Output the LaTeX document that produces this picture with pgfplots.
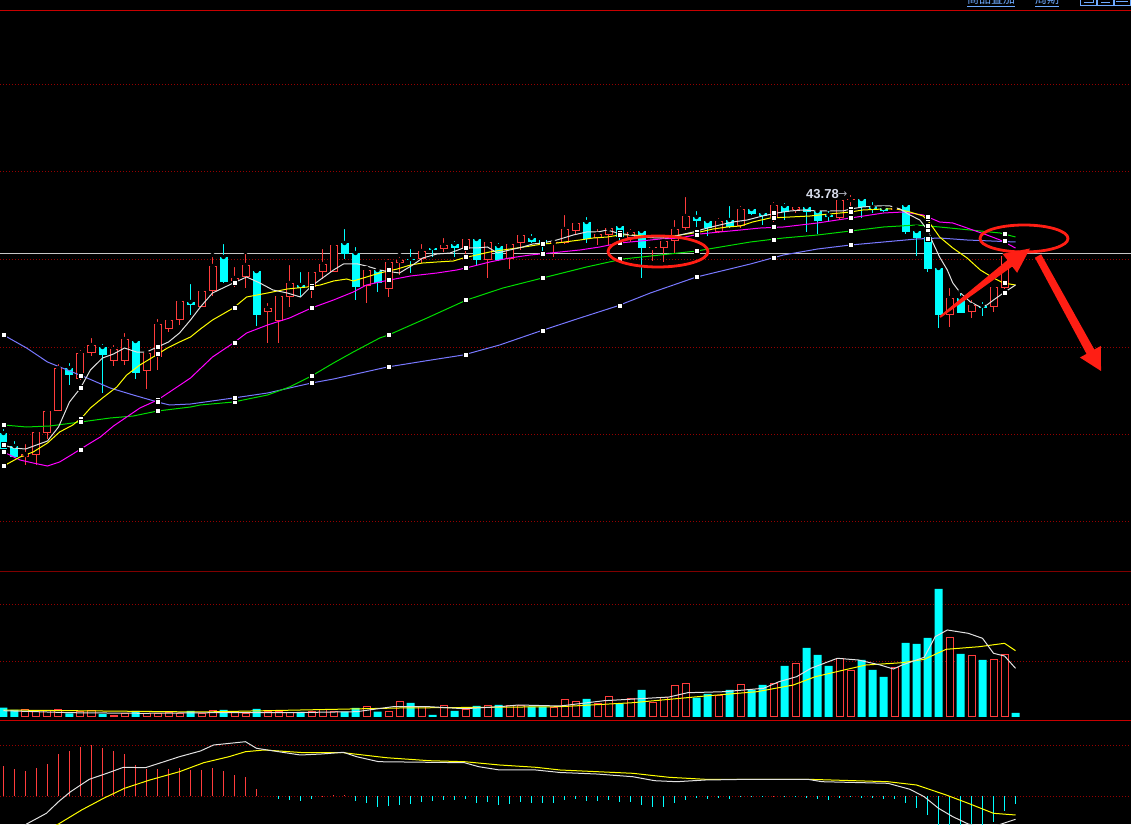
\documentclass[border=0pt]{standalone}
\usepackage{pgfplots}
\pgfplotsset{compat=1.18}
\usepackage{pgfplotstable}
\usepackage{fontspec}
\setmainfont{Liberation Sans}
\newfontfamily\cjk{Noto Sans CJK SC}
\newfontfamily\dejavu{DejaVu Sans}
\definecolor{kred}{RGB}{255,60,60}
\definecolor{kcyan}{RGB}{0,255,255}
\definecolor{maw}{RGB}{225,225,225}
\definecolor{may}{RGB}{255,255,0}
\definecolor{mam}{RGB}{255,0,255}
\definecolor{mag}{RGB}{0,220,0}
\definecolor{mab}{RGB}{120,120,255}
\definecolor{gridred}{RGB}{150,0,0}
\definecolor{linered}{RGB}{200,0,0}
\definecolor{annred}{RGB}{255,30,20}
\definecolor{uiblue}{RGB}{110,170,255}
\definecolor{labgray}{RGB}{215,220,235}

% candles: i open high low close volume (price axis in chart units, downward)
\pgfplotstableread{
i o h l c v
2 457 442 465 454 7
3 455 431 465 432 6
4 433 409 439 411 6
5 411 362 411 368 7.7
7 379 348 380 353 5
8 353 336 356 345 6.7
10 361 343 366 349 1
11 361 331 365 339 3.7
13 371 352 389 353 3.7
14 357 317 370 324 3.7
15 329 317 332 320 4.3
16 320 300 325 301 3.7
18 307 288 307 291 3.7
19 291 255 296 266 6.7
21 281 265 287 278 5
22 277 252 288 265 3.7
24 312 301 343 308 5.3
25 321 295 343 296 5.3
26 297 263 307 283 4.3
28 287 268 298 272 5.3
29 272 247 279 264 7.7
30 272 242 272 245 5.3
33 286 268 303 270 10
35 289 257 297 262 5.3
36 263 255 275 260 15.7
38 259 242 263 251 10.3
40 249 236 252 245 11.7
42 249 237 255 239 7
44 260 240 278 242 11
46 259 242 269 244 11.7
47 243 231 250 235 11.7
50 243 238 257 242 9.7
51 243 213 244 229 17
52 231 221 235 223 15.7
54 238 227 245 234 13.7
55 235 224 245 228 20.3
57 238 227 242 232 18.7
59 248 244 261 247 14.7
60 248 233 262 241 19
61 241 218 253 229 31.7
62 228 195 230 216 33.7
65 232 216 233 221 21.7
67 226 204 228 209 32.7
70 217 200 222 205 33
72 210 203 213 207 53.7
76 218 199 219 200 58.7
77 200 193 212 199 46
81 210 206 211 208 49.7
86 315 286 327 298 79.7
88 312 298 318 305 61.7
90 307 284 312 287 57.7
91 288 255 289 256 62.7
}\tUp

\pgfplotstableread{
i o h l c v
0 433 427 450 449 9.3
1 446 439 457 457 7
6 368 361 385 375 3.7
9 347 342 393 355 3
12 341 340 379 373 6
17 302 282 315 305 6
20 257 242 283 282 7
23 271 271 326 315 8
27 285 270 297 288 5
31 243 227 259 254 5.3
32 253 245 300 287 9
34 270 266 292 283 5.3
37 259 247 273 260 14
39 248 247 257 250 2
41 244 239 257 248 6
43 239 237 266 260 11
45 246 241 261 260 12
48 238 232 243 242 10.3
49 240 237 252 243 10.3
53 222 215 243 239 18
56 226 222 240 237 13.7
58 231 230 278 248 27
63 217 209 227 221 19.3
64 221 217 236 228 23
66 220 204 228 227 27
68 209 205 215 214 27
69 213 210 225 216 32
71 206 201 220 212 51
73 207 206 232 212 69
74 211 207 234 221 62
75 215 209 221 217 51
78 199 198 218 207 57
79 207 200 213 209 47
80 208 203 212 211 40
82 205 204 234 232 74
83 231 227 256 238 73
84 237 235 272 269 79
85 268 266 328 315 128
87 298 291 313 313 63
89 306 300 316 308 57
92 257 254 270 267 4
}\tDown

\pgfplotstableread{
i y
0 445
0.9 448
2 449
3 445
4 441
5 427
6 402
7 388
7.9 370
9 358
10 354
11 348
12.1 352
13 352
14 347
15 342
16 333
17 320
17.9 307
19 293
20.9 283
22.1 277
23.3 283
24.5 290
25.8 293
27 297
28 286
29 278
30 270
30.9 264
32.2 264
33 266
34.2 270
34.7 271
36 273
37.2 265
38.1 258
39.4 254
40.6 253
41.8 248
43 248
44 247
44.9 253
46 250
47.2 247
48.1 244
49 243
50.3 240
51.8 235
53 232
54 232
54.9 230
55.8 233
57 235
58.1 237
59.4 238
60.3 238
61.5 235
62.7 232
64 228
65.1 225
66.3 222
67.6 220
69 216
70.3 213
71.5 211
72.7 210
74 211
75.1 211
76.3 211
77 209
78.1 207
79.4 206
80.6 206
81.5 209
82.4 215
83.3 220
84 230
84.5 243
85.1 257
85.8 270
86.3 283
87 293
87.9 302
88.8 307
89.4 305
90 300
90.9 293
92 285
}\tMaw

\pgfplotstableread{
i y
0 466
1.5 457
2.7 452
4 443
5.1 432
6.3 425
7.1 418
7.9 408
9 398
10.3 387
11.2 375
12.4 365
13.6 357
14.9 348
16 342
17 337
17.9 329
19 320
20.9 308
22.1 297
24 293
25.8 289
27.6 287
28.8 285
30 281
31.2 279
31.8 281
33 277
34.2 273
35.8 269
37 265
38.1 263
39.4 262
40.9 261
41.8 258
43 255
44.2 252
45.4 250
46.7 248
47.9 246
49 244
50.3 243
52.4 240
53.6 238
54.9 237
56 235
57.2 235
58.5 236
59.7 236
60.9 236
62.1 234
63.3 232
64.5 229
65.8 227
67 226
68.1 222
69.7 218
71.5 217
73.3 216
75.1 214
77 212
78.1 210
80 209
81.2 209
82.4 212
83.6 216
84.2 223
85.1 237
86.3 248
87.6 258
88.8 270
90 278
90.9 283
92 285
}\tMay

\pgfplotstableread{
i y
0 452
1.5 460
2.7 463
4 466
5.1 462
6.3 454
7.6 445
8.8 437
10 426
11.2 417
12.4 408
14 400
15.1 392
17 378
19 357
20.9 343
22.1 333
24 325
26 318
28 308
30 300
31.8 292
33 285
34.2 282
35.1 280
37 276
39.4 273
41.2 270
42.4 267
44.2 262
46 258
47.9 255
49.7 253
51.5 251
52.4 250
54.2 247
56 243
57.9 241
59.7 239
61.5 238
63.3 234
65.1 232
67 230
68.8 228
70.9 227
74 223
77 218
80 213
81.8 212
83.6 215
85.1 222
86.3 223
87.6 228
89.4 235
90.6 240
92 248
}\tMam

\pgfplotstableread{
i y
0 425
2.1 427
4.2 426
7 422
9.7 418
11.8 416
14 411
17 407
17.9 405
20.9 402
24 395
26 387
28 376
30 363
31.8 352
34.2 338
35 335
38.5 318
42.1 300
45.4 288
49 278
53 267
56.3 259
59.7 255
63 251
67.9 242
70.9 238
74 235
77 231
80 227
83 225
85.1 227
88.8 231
90.6 233
92 237
}\tMag

\pgfplotstableread{
i y
0 335
2.1 348
4 362
5.8 370
7.6 378
9.7 388
11.8 395
14 402
15.1 405
17 404
20.9 398
24 393
28 383
30 379
34.9 367
38.3 361
41.8 355
45.1 345
48.8 331
52.4 318
55.8 306
58.8 293
63 277
67.9 264
70.9 255
74 249
77 245
80 242
83 239
85.1 238
87.6 240
92 242
}\tMab

\pgfplotstableread{
i w y m g b
0 445 466 452 425 335
7 388 419 450 422 376
14 347 354 400 411 402
21 283 308 343 402 398
28 286 288 308 376 383
35 271 270 280 335 367
42 248 257 268 300 355
49 243 244 254 278 331
56 233 235 243 259 306
63 231 232 235 251 277
70 213 218 227 240 258
77 209 212 218 231 245
84 230 219 217 226 239
91 293 283 242 234 241
}\tMarks

\pgfplotstableread{
i v
0 6.3
6.1 4.3
12.7 3.7
19.1 4.3
25.7 4.3
32.1 5.3
35.4 10.3
38.7 10.3
41.9 8.3
45.1 10.3
46.8 12
50.6 11
54.6 16.3
58.5 18.7
60.5 20
62.2 24.3
65.5 25.3
69.1 28.7
70.5 35.3
72.1 40.3
73.4 48.7
75.8 58.7
77.7 57
79.7 52
80.9 48
81.7 52
83.7 59.7
84.7 80.3
85.8 87
87.7 83.7
89 78.7
90 63.7
91 61
92 48.7
}\tVolw

\pgfplotstableread{
i v
0 7
18 5
36 9
50.6 10.3
57.2 14.3
63.8 21
68.5 25.3
71.8 32
73.8 40.3
76.4 47
78.4 52
81.7 54.3
83.7 57.7
85.7 67.7
88.7 70.3
91 73.7
92 66.3
}\tVoly

\pgfplotstableread{
i m
0 30.5
1 27.5
2 25.5
3 28.5
4 32.5
5 42.8
6 45.5
7 49.5
8 51.5
9 48.5
10 45.5
11 42.8
12 31.5
13 27.5
14 27.5
15 27.5
16 28.8
17 26.8
18 26.8
19 28.5
20 25.5
21 21.5
22 19.5
23 7.5
29 0.8
30 1.2
31 1.2
70 0.8
}\tHistpos

\pgfplotstableread{
i m
25 -2.2
26 -3.5
27 -4.2
28 -2.8
32 -4.5
33 -6.2
34 -10.2
35 -9.5
36 -8.5
37 -7.5
38 -5.2
39 -4.5
40 -3.5
41 -3.5
42 -2.2
43 -6.2
44 -5.2
45 -8.5
46 -7.5
47 -5.5
48 -6.2
49 -6.2
50 -6.8
51 -3.5
52 -2.2
53 -4.2
54 -4.2
55 -3.5
56 -5.5
57 -5.2
58 -8.5
59 -10.2
60 -10.2
61 -6.8
62 -3.5
63 -1.5
64 -2.2
65 -1.5
66 -2.2
67 -1
68 -1
69 -1
71 -1
72 -1
73 -1.5
74 -2.2
75 -3.5
76 -1.5
77 -1
78 -1.5
79 -1.5
80 -2.2
81 -2.2
82 -6.8
83 -11.8
84 -18.5
85 -30
86 -30
87 -30
88 -30
89 -30
90 -25.8
91 -14.2
92 -7.5
}\tHistneg

\pgfplotstableread{
i y
0 -45
2.1 -27.5
3.9 -16.8
5 -5.2
6.1 4.8
7.8 17.2
9.4 23.2
10.9 29.2
12.9 28.8
14.6 34.8
16 39.8
17.9 45.5
19.1 51.5
22 54.8
23 48.2
25 44.8
27 41.5
28.9 42.5
30.9 44.2
32.1 39.8
34.1 34.8
38.7 34.2
41.9 33.8
43.2 29.8
45.1 26.5
48.4 26.5
50.6 24
53.9 22.5
57.2 19.8
59.2 15.8
61.2 14.8
63.8 16.5
67.8 17.2
73.1 17.2
74.4 14.8
80.4 13.2
82.4 7.2
83.7 -0.2
85 -11.8
86.3 -20.2
87.7 -27.5
89 -31
90.3 -29
92 -22.8
}\tDif

\pgfplotstableread{
i y
2 -45
5 -27.5
7.1 -13.5
9.1 -1.8
11 8.2
13.3 16.5
16 24.8
18.2 33.8
20.5 39.8
22 44.8
23.7 46.5
27.3 43.8
30.9 43.8
34.8 38.8
38.7 35.8
41.9 34.8
45.1 31.5
48.4 29.2
50.6 26.5
57.2 23.2
60.5 19.2
63.8 17.2
73.1 17.2
80.4 14.8
83 11.5
85.7 1.5
87.7 -6.8
90 -16.8
92 -18.5
}\tDea

\pgfplotsset{
  panel/.style={scale only axis, width=1131pt, xmin=-0.318, xmax=102.5,
    anchor=south west, axis line style={draw=none}, tick style={draw=none},
    major tick length=0pt, xtick=\empty, yticklabels={}, ymajorgrids,
    grid style={gridred, dash pattern=on 1pt off 2pt, line width=0.8pt}, clip=true},
  bar/.style n args={2}{only marks, mark=none, error bars/.cd, y dir=plus, y explicit,
    error mark=none, error bar style={draw=#1, line width=#2}},
}

\begin{document}
\begin{tikzpicture}
\fill[black] (0,0) rectangle (1131pt,824pt);

% ---------- price panel ----------
\begin{axis}[panel, at={(0pt,253pt)}, height=561pt, ymin=10, ymax=571, y dir=reverse,
  ytick={84.3,171.8,259.3,347,434.5,521.8}]
\draw[white!78!black, line width=1pt] (axis cs:-1,253.3) -- (axis cs:104,253.3);
% wicks
\addplot[bar={kcyan}{1pt}] table[x=i, y=h, y error plus expr=\thisrow{l}-\thisrow{h}] {\tDown};
\addplot[bar={kred}{1pt}] table[x=i, y=h, y error plus expr=\thisrow{l}-\thisrow{h}] {\tUp};
% bodies
\addplot[bar={kcyan}{8pt}] table[x=i, y=o, y error plus expr={max(\thisrow{c}-\thisrow{o},1)}] {\tDown};
\addplot[bar={kred}{8pt}] table[x=i, y=c, y error plus expr={max(\thisrow{o}-\thisrow{c},1)}] {\tUp};
\addplot[bar={black}{6pt}] table[x=i, y expr=\thisrow{c}+1, y error plus expr={max(\thisrow{o}-\thisrow{c}-2,0)}] {\tUp};
% moving averages
\addplot[mab, line width=1pt, mark=none] table[x=i,y=y] {\tMab};
\addplot[mag, line width=1pt, mark=none] table[x=i,y=y] {\tMag};
\addplot[mam, line width=1pt, mark=none] table[x=i,y=y] {\tMam};
\addplot[may, line width=1pt, mark=none] table[x=i,y=y] {\tMay};
\addplot[maw, line width=1pt, mark=none] table[x=i,y=y] {\tMaw};
\addplot[only marks, mark=square*, mark size=2.5pt, mark options={fill=white, draw=none}] table[x=i, y=w] {\tMarks};
\addplot[only marks, mark=square*, mark size=2.5pt, mark options={fill=white, draw=none}] table[x=i, y=y] {\tMarks};
\addplot[only marks, mark=square*, mark size=2.5pt, mark options={fill=white, draw=none}] table[x=i, y=m] {\tMarks};
\addplot[only marks, mark=square*, mark size=2.5pt, mark options={fill=white, draw=none}] table[x=i, y=g] {\tMarks};
\addplot[only marks, mark=square*, mark size=2.5pt, mark options={fill=white, draw=none}] table[x=i, y=b] {\tMarks};
\end{axis}

% ---------- volume panel ----------
\begin{axis}[panel, at={(0pt,104pt)}, height=149pt, ymin=-3, ymax=146, ytick={56,113}]
\addplot[ybar, bar width=8pt, bar shift=0pt, fill=kcyan, draw=none] table[x=i,y=v] {\tDown};
\addplot[ybar, bar width=7pt, bar shift=0pt, fill=black, draw=kred, line width=1pt] table[x=i,y=v] {\tUp};
\addplot[may, line width=1pt, mark=none] table[x=i,y=v] {\tVoly};
\addplot[maw, line width=1pt, mark=none] table[x=i,y=v] {\tVolw};
\end{axis}

% ---------- MACD panel ----------
\begin{axis}[panel, at={(0pt,0pt)}, height=104pt, ymin=-27.5, ymax=76.5, ytick={0,51.5}]
\addplot[ycomb, kred, line width=1pt, mark=none] table[x=i,y=m] {\tHistpos};
\addplot[ycomb, kcyan, line width=1pt, mark=none] table[x=i,y=m] {\tHistneg};
\addplot[may, line width=1pt, mark=none] table[x=i,y=y] {\tDea};
\addplot[maw, line width=1pt, mark=none] table[x=i,y=y] {\tDif};
\end{axis}

% ---------- frame lines and annotations (pixel units, y downward) ----------
\begin{scope}[x=1pt, y=-1pt, yshift=824pt]
\draw[linered, line width=1pt] (0,10.3) -- (1131,10.3);
\draw[gridred!85!black, line width=1pt] (0,571.3) -- (1131,571.3);
\draw[linered, line width=1pt] (0,720.3) -- (1131,720.3);
% top-right toolbar (cut by the page edge, as in the reference)
\node[anchor=base west, inner sep=0pt, text=uiblue, font=\cjk\fontsize{12}{12}\selectfont] at (967,3.8) {商品叠加};
\draw[uiblue, line width=0.8pt] (967,6.6) -- (1015,6.6);
\node[anchor=base west, inner sep=0pt, text=uiblue, font=\cjk\fontsize{12}{12}\selectfont] at (1035,3.8) {周期};
\draw[uiblue, line width=0.8pt] (1035,6.6) -- (1059,6.6);
\draw[uiblue, line width=0.8pt] (1080.5,-6) rectangle (1096.5,5.5);
\draw[uiblue, line width=0.8pt] (1097.5,-6) rectangle (1113,5.5);
\draw[uiblue, line width=0.8pt] (1114,-6) rectangle (1130,5.5);
\draw[uiblue, line width=0.8pt] (1084,2) -- (1093,2) -- (1093,-2);
\draw[uiblue, line width=0.8pt] (1101,2) -- (1110,2);
\draw[uiblue, line width=0.8pt] (1116,1.5) -- (1128,1.5);
% high label
\node[anchor=base west, inner sep=0pt, text=labgray, font=\bfseries\fontsize{13}{13}\selectfont] at (806,198.3) {43.78};
\node[anchor=base west, inner sep=0pt, text=labgray!80!black, font=\dejavu\fontsize{11}{11}\selectfont] at (838,197.5) {→};
% red ellipses
\draw[annred, line width=2.8pt] (658,251.5) ellipse [x radius=50pt, y radius=15.5pt];
\draw[annred, line width=2.8pt] (1024,238.5) ellipse [x radius=44pt, y radius=13.5pt];
% red arrows
\fill[annred] (939.4,316.2) -- (1007.4,260.1) -- (1002.5,253.8) -- (1030,248.5) -- (1017.1,272.8) -- (1012.2,266.5) -- (940.6,317.8) -- cycle;
\fill[annred] (1041.1,254.3) -- (1094.3,349.5) -- (1100.9,345.9) -- (1101,371) -- (1079.9,357.5) -- (1086.5,353.9) -- (1034.9,257.7) -- cycle;
\end{scope}

\pgfresetboundingbox
\path[use as bounding box] (0,0) rectangle (1131pt,824pt);
\end{tikzpicture}
\end{document}
